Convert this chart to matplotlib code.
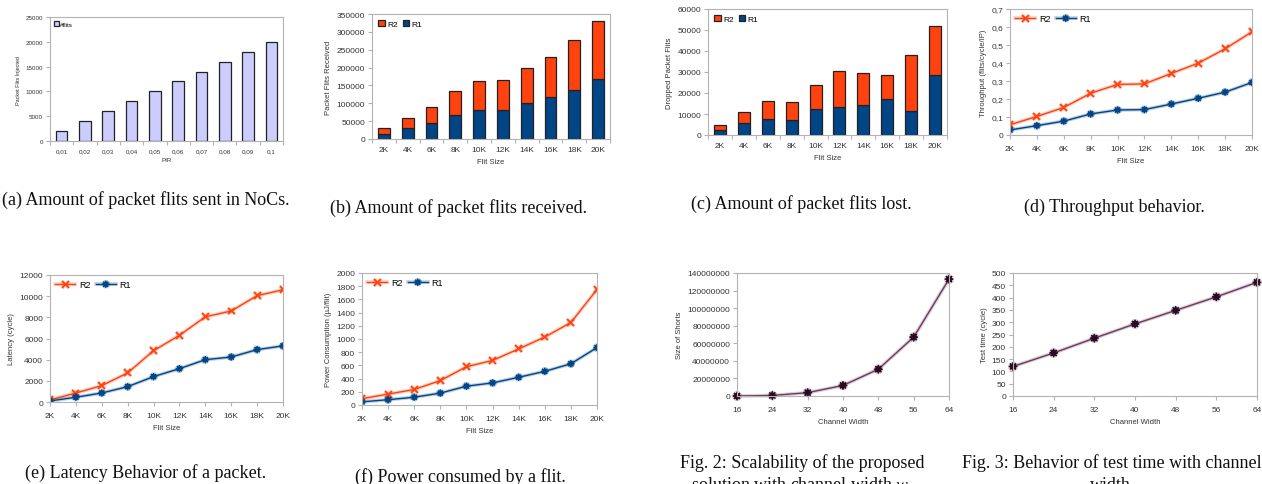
import numpy as np
import matplotlib.pyplot as plt
import matplotlib.patheffects as pe

W, H = 1262, 485

# packet flits injected per PIR
pir_labels = ["0,01", "0,02", "0,03", "0,04", "0,05", "0,06", "0,07", "0,08", "0,09", "0,1"]
flits_injected = [2000, 4000, 6000, 8000, 10000, 12000, 14000, 16000, 18000, 20000]

flit_sizes = ["2K", "4K", "6K", "8K", "10K", "12K", "14K", "16K", "18K", "20K"]

received_r1 = [15000, 30000, 45000, 68000, 81000, 82000, 100000, 118000, 138000, 169000]
received_r2 = [17000, 30000, 44000, 66000, 81000, 82000, 98000, 112000, 138000, 161000]

dropped_r1 = [2500, 5500, 7500, 7000, 12500, 13500, 14500, 17000, 11500, 28500]
dropped_r2 = [2500, 5500, 8500, 8500, 11500, 17000, 15000, 11500, 26500, 23500]

throughput_r2 = [0.057, 0.103, 0.153, 0.232, 0.281, 0.284, 0.342, 0.399, 0.479, 0.573]
throughput_r1 = [0.028, 0.052, 0.077, 0.117, 0.139, 0.141, 0.172, 0.204, 0.238, 0.292]

latency_r2 = [200, 850, 1550, 2750, 4850, 6300, 8050, 8600, 10050, 10600]
latency_r1 = [100, 450, 850, 1450, 2400, 3150, 4000, 4250, 4950, 5300]

power_r2 = [95, 165, 235, 370, 580, 675, 850, 1030, 1250, 1750]
power_r1 = [48, 80, 118, 180, 285, 335, 420, 510, 625, 870]

channel_width = [16, 24, 32, 40, 48, 56, 64]
size_of_shorts = [0, 600000, 3800000, 12000000, 30500000, 67000000, 133000000]
test_time = [120, 175, 235, 293, 348, 403, 462]

C_R2 = "#ff420e"
C_R1 = "#004586"
C_FLITS = "#ccccff"
C_WIDTH = "#6e3a5e"
C_FRAME = "#b3b3b3"
STAR = (8, 1, 0)

plt.rcParams["font.family"] = ["Liberation Sans", "DejaVu Sans"]
plt.rcParams["mathtext.fontset"] = "stix"


def ax_at(fig, left, top, right, bottom):
    return fig.add_axes([left / W, 1 - bottom / H, (right - left) / W, (bottom - top) / H])


def glow(color):
    return [pe.Stroke(linewidth=2.6, foreground=color, alpha=0.25), pe.Normal()]


def style(ax, tick_fs=6):
    for s in ax.spines.values():
        s.set_color(C_FRAME)
        s.set_linewidth(0.8)
    ax.tick_params(axis="both", which="both", colors=C_FRAME, labelcolor="#333333",
                   labelsize=tick_fs, length=3, width=0.8, pad=2)


def category_axis(ax, labels, fs=6):
    n = len(labels)
    ax.set_xlim(-0.5, n - 0.5)
    ax.set_xticks(np.arange(n + 1) - 0.5)
    ax.set_xticklabels([])
    ax.set_xticks(np.arange(n), minor=True)
    ax.set_xticklabels(labels, minor=True, fontsize=fs)
    ax.tick_params(axis="x", which="minor", length=0, pad=5)


def stacked(ax, r1, r2, ylim, step, ylabel):
    x = np.arange(len(flit_sizes))
    ax.bar(x, r1, width=0.5, color=C_R1, edgecolor="#222222", linewidth=0.9, label="R1")
    ax.bar(x, r2, width=0.5, bottom=r1, color=C_R2, edgecolor="#222222", linewidth=0.9, label="R2")
    style(ax)
    category_axis(ax, flit_sizes)
    ax.set_ylim(*ylim)
    ax.set_yticks(np.arange(ylim[0], ylim[1] + 1, step))
    ax.set_ylabel(ylabel, fontsize=5.5, color="#333333", labelpad=3)
    ax.set_xlabel("Flit Size", fontsize=5.5, color="#333333", labelpad=4)
    h, l = ax.get_legend_handles_labels()
    ax.legend(h[::-1], l[::-1], loc="upper left", ncol=2, frameon=False, fontsize=6,
              handlelength=0.8, handleheight=0.8, columnspacing=0.6, handletextpad=0.3,
              borderaxespad=0.3)


def two_lines(ax, r2, r1, ylim, step, ylabel, xlabel, fmt=None):
    x = np.arange(len(flit_sizes))
    ax.plot(x, r2, color=C_R2, lw=1.0, marker="x", ms=5, mew=1.3, label="R2",
            path_effects=glow(C_R2))
    ax.plot(x, r1, color=C_R1, lw=1.0, marker=STAR, ms=5, mew=0.8, label="R1",
            path_effects=glow(C_R1))
    style(ax)
    ax.set_xlim(0, len(x) - 1)
    ax.set_xticks(x)
    ax.set_xticklabels(flit_sizes)
    ax.tick_params(axis="x", pad=4)
    ax.set_ylim(*ylim)
    ticks = np.arange(0, ylim[1] + step / 2, step)
    ax.set_yticks(ticks)
    if fmt:
        ax.set_yticklabels([fmt(t) for t in ticks])
    ax.set_ylabel(ylabel, fontsize=5.5, color="#333333", labelpad=3)
    ax.set_xlabel(xlabel, fontsize=5.5, color="#333333", labelpad=4)
    ax.legend(loc="upper left", ncol=2, frameon=False, fontsize=6.5, handlelength=2.2,
              columnspacing=0.6, handletextpad=0.4, borderaxespad=0.2)


def width_line(ax, values, ylim, step, ylabel):
    ax.plot(channel_width, values, color=C_WIDTH, lw=1.0, marker=STAR, ms=6,
            mfc="#2a0a20", mec="#2a0a20", mew=0.8, clip_on=False,
            path_effects=glow(C_WIDTH))
    style(ax)
    ax.set_xlim(16, 64)
    ax.set_xticks(channel_width)
    ax.tick_params(axis="x", pad=4)
    ax.set_ylim(*ylim)
    ticks = np.arange(0, ylim[1] + step / 2, step)
    ax.set_yticks(ticks)
    ax.set_yticklabels([f"{int(t)}" for t in ticks])
    ax.set_ylabel(ylabel, fontsize=5.5, color="#333333", labelpad=3)
    ax.set_xlabel("Channel Width", fontsize=5.5, color="#333333", labelpad=4)


fig = plt.figure(figsize=(W / 100, H / 100), dpi=100)

# (a) flits injected
ax = ax_at(fig, 50, 18, 283, 142)
ax.bar(np.arange(len(pir_labels)), flits_injected, width=0.5, color=C_FLITS,
       edgecolor="#222222", linewidth=0.9, label="#flits")
style(ax, tick_fs=4.5)
category_axis(ax, pir_labels, fs=4.5)
ax.set_ylim(0, 25000)
ax.set_yticks(np.arange(0, 25001, 5000))
ax.set_ylabel("Packet Flits Injected", fontsize=4, color="#333333", labelpad=3)
ax.set_xlabel("PIR", fontsize=4.5, color="#333333", labelpad=3)
ax.legend(loc="upper left", frameon=False, fontsize=4.5, handlelength=0.7,
          handleheight=0.7, handletextpad=0.2, borderaxespad=0.3)

# (b) received
ax = ax_at(fig, 372, 15, 610, 140)
stacked(ax, received_r1, received_r2, (0, 350000), 50000, "Packet Flits Received")

# (c) dropped
ax = ax_at(fig, 708, 10, 947, 136)
stacked(ax, dropped_r1, dropped_r2, (0, 60000), 10000, "Dropped Packet Flits")

# (d) throughput
ax = ax_at(fig, 1010, 10, 1252, 136)
two_lines(ax, throughput_r2, throughput_r1, (0, 0.7), 0.1, "Throughput (flits/cycle/IP)",
          "Flit Size", fmt=lambda t: "0" if t == 0 else f"{t:.1f}".replace(".", ","))

# (e) latency
ax = ax_at(fig, 50, 276, 283, 403)
two_lines(ax, latency_r2, latency_r1, (0, 12000), 2000, "Latency (cycle)", "Flit Size")

# (f) power
ax = ax_at(fig, 362, 274, 597, 406)
two_lines(ax, power_r2, power_r1, (0, 2000), 200, "Power Consumption (\u00b5J/flit)", "Filt Size")

# Fig. 2 shorts vs channel width
ax = ax_at(fig, 737, 274, 949, 397)
width_line(ax, size_of_shorts, (0, 140000000), 20000000, "Size of Shorts")

# Fig. 3 test time vs channel width
ax = ax_at(fig, 1013, 274, 1257, 397)
width_line(ax, test_time, (0, 500), 50, "Test time (cycle)")

cap = dict(fontsize=13, family=["Liberation Serif", "DejaVu Serif"], color="#111111",
           ha="center", va="center")
fig.text(146 / W, 1 - 200 / H, "(a) Amount of packet flits sent in NoCs.", **cap)
fig.text(459 / W, 1 - 208 / H, "(b) Amount of packet flits received.", **cap)
fig.text(801 / W, 1 - 204 / H, "(c) Amount of packet flits lost.", **cap)
fig.text(1114 / W, 1 - 207 / H, "(d) Throughput behavior.", **cap)
fig.text(146 / W, 1 - 473 / H, "(e) Latency Behavior of a packet.", **cap)
fig.text(460 / W, 1 - 477 / H, "(f) Power consumed by a flit.", **cap)
fig.text(802 / W, 1 - 463 / H, "Fig. 2: Scalability of the proposed", **cap)
fig.text(802 / W, 1 - 486 / H, "solution with channel width $w$.", **cap)
fig.text(962 / W, 1 - 463 / H, "Fig. 3: Behavior of test time with channel",
         **{**cap, "ha": "left"})
fig.text(1113 / W, 1 - 486 / H, "width.", **cap)

fig.savefig("out.png", dpi=100)
